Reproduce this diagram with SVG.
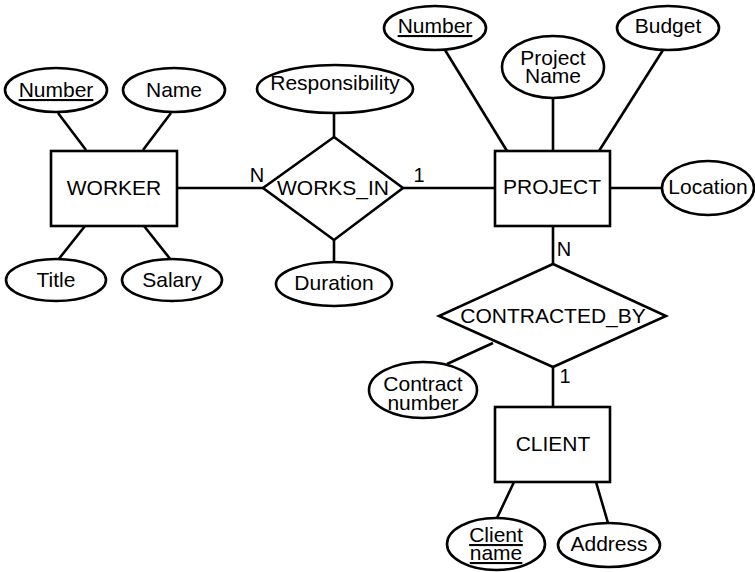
<svg xmlns="http://www.w3.org/2000/svg" width="755" height="572" viewBox="0 0 755 572">
<style>
.s{fill:#fff;stroke:#000;stroke-width:2.6}
.c line{stroke:#000;stroke-width:2.6}
text{font-family:"Liberation Sans",Arial,sans-serif;font-size:21px;fill:#000;text-anchor:middle}
.u{text-decoration:underline}
.lbl{font-size:20px}
</style>
<rect width="755" height="572" fill="#fff"/>
<g class="c" id="connectors">
<line x1="58" y1="113" x2="86" y2="150"/>
<line x1="171" y1="113" x2="143" y2="150"/>
<line x1="85" y1="226" x2="58" y2="260"/>
<line x1="144" y1="226" x2="171" y2="260"/>
<line x1="177" y1="188" x2="263" y2="188"/>
<line x1="334" y1="113" x2="334" y2="137"/>
<line x1="334" y1="240" x2="334" y2="262"/>
<line x1="403" y1="188" x2="495" y2="188"/>
<line x1="445" y1="50" x2="507" y2="151"/>
<line x1="553" y1="97" x2="553" y2="151"/>
<line x1="663" y1="50" x2="599" y2="151"/>
<line x1="610" y1="188" x2="662" y2="188"/>
<line x1="553" y1="226" x2="553" y2="264"/>
<line x1="553" y1="367" x2="553" y2="407"/>
<line x1="447" y1="364" x2="493" y2="343"/>
<line x1="514" y1="482" x2="497" y2="518"/>
<line x1="596" y1="482" x2="608" y2="523"/>
<text class="lbl" x="257" y="182">N</text>
<text class="lbl" x="419" y="182">1</text>
<text class="lbl" x="564" y="256">N</text>
<text class="lbl" x="565" y="383">1</text>
</g>
<g id="worker"><rect class="s" x="51" y="151" width="126" height="75"/><text x="114" y="195">WORKER</text></g>
<g id="w_number"><ellipse class="s" cx="56" cy="90" rx="51" ry="22"/><text class="u" x="56" y="97">Number</text></g>
<g id="w_name"><ellipse class="s" cx="174" cy="90" rx="51" ry="22"/><text x="174" y="97">Name</text></g>
<g id="w_title"><ellipse class="s" cx="56" cy="280" rx="50" ry="21"/><text x="56" y="287">Title</text></g>
<g id="w_salary"><ellipse class="s" cx="172" cy="280" rx="50" ry="21"/><text x="172" y="287">Salary</text></g>
<g id="works_in"><polygon class="s" points="334,137 403,188 334,240 263,188"/><text x="333" y="195">WORKS_IN</text></g>
<g id="responsibility"><ellipse class="s" cx="335" cy="89" rx="78" ry="24"/><text x="335" y="90">Responsibility</text></g>
<g id="duration"><ellipse class="s" cx="334" cy="284" rx="58" ry="22"/><text x="334" y="290">Duration</text></g>
<g id="project"><rect class="s" x="495" y="151" width="115" height="75"/><text x="552" y="194">PROJECT</text></g>
<g id="p_number"><ellipse class="s" cx="435" cy="28" rx="51" ry="22"/><text class="u" x="435" y="33">Number</text></g>
<g id="p_name"><ellipse class="s" cx="553" cy="67" rx="51" ry="31"/><text x="553" y="65">Project</text><text x="553" y="83">Name</text></g>
<g id="p_budget"><ellipse class="s" cx="668" cy="28" rx="51" ry="22"/><text x="668" y="33">Budget</text></g>
<g id="p_location"><ellipse class="s" cx="708" cy="188" rx="46" ry="27"/><text x="708" y="194">Location</text></g>
<g id="contracted_by"><polygon class="s" points="553,264 666,316 553,367 439,316"/><text x="553" y="323">CONTRACTED_BY</text></g>
<g id="contract_number"><ellipse class="s" cx="423" cy="390" rx="54" ry="28"/><text x="423" y="391">Contract</text><text x="423" y="410">number</text></g>
<g id="client"><rect class="s" x="495" y="407" width="115" height="75"/><text x="553" y="451">CLIENT</text></g>
<g id="client_name"><ellipse class="s" cx="496" cy="544" rx="49" ry="26"/><text class="u" x="496" y="542">Client</text><text class="u" x="496" y="560">name</text></g>
<g id="address"><ellipse class="s" cx="609" cy="545" rx="51" ry="22"/><text x="609" y="551">Address</text></g>
</svg>
